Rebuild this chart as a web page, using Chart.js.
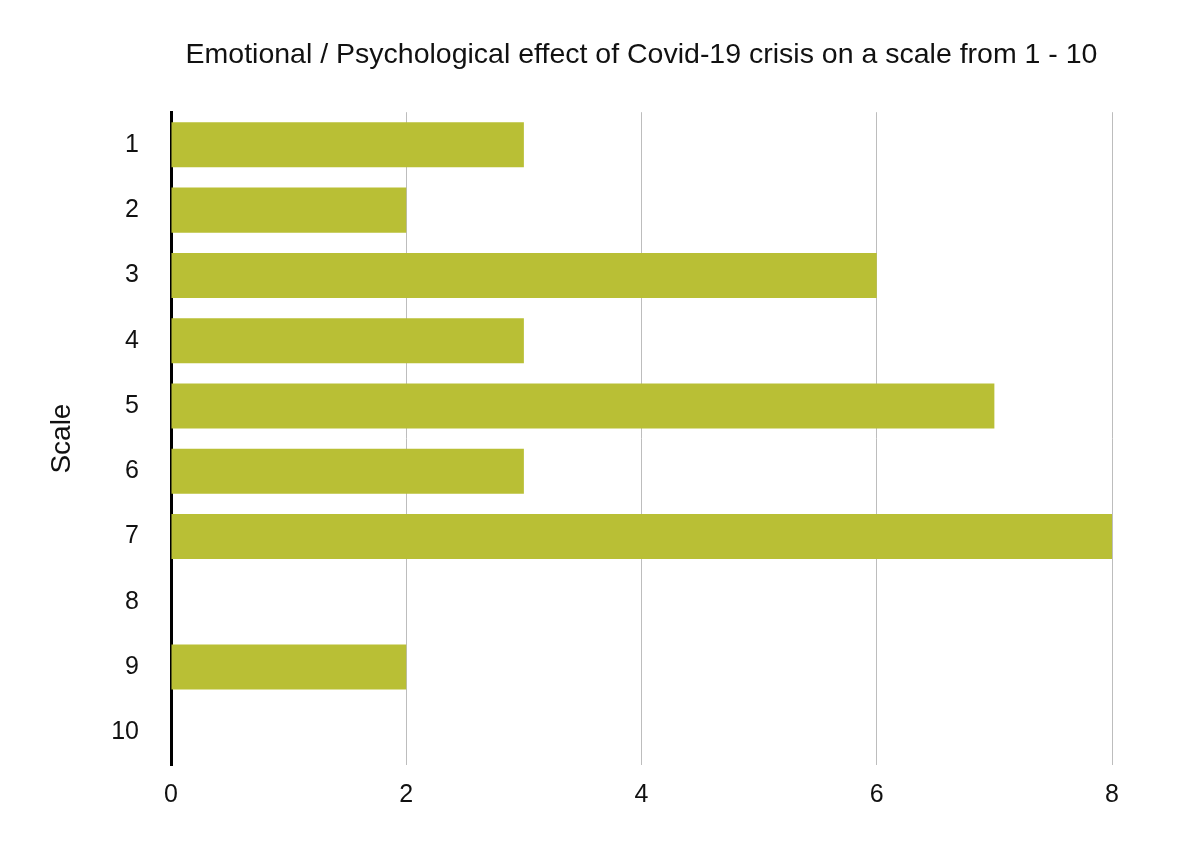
<!DOCTYPE html>
<html>
<head>
<meta charset="utf-8">
<script src="https://cdn.jsdelivr.net/npm/chart.js@4.4.1/dist/chart.umd.min.js"></script>
<style>
  html, body { margin: 0; padding: 0; background: #ffffff; }
  #wrap { width: 1200px; height: 852px; }
</style>
</head>
<body>
<div id="wrap"><canvas id="c" width="1200" height="852"></canvas></div>
<script>
const categories = ['1', '2', '3', '4', '5', '6', '7', '8', '9', '10'];
const counts = [3, 2, 6, 3, 7, 3, 8, 0, 2, 0];
const xTicks = [0, 2, 4, 6, 8];
const chartTitle = 'Emotional / Psychological effect of Covid-19 crisis on a scale from 1 - 10';
const yTitle = 'Scale';

const FONT = '"Liberation Sans", Arial, Helvetica, sans-serif';

new Chart(document.getElementById('c'), {
  type: 'bar',
  data: {
    labels: categories,
    datasets: [{
      data: counts,
      backgroundColor: '#b9bf35',
      borderWidth: 0,
      barPercentage: 0.69,
      categoryPercentage: 1.0
    }]
  },
  options: {
    indexAxis: 'y',
    responsive: false,
    animation: false,
    layout: { padding: { left: 0, right: 88, top: 0, bottom: 0 } },
    plugins: {
      legend: { display: false },
      tooltip: { enabled: false },
      title: {
        display: true,
        text: chartTitle,
        fullSize: false,
        color: '#111111',
        font: { family: FONT, size: 28.5, weight: 'normal' },
        padding: { top: 38, bottom: 40 }
      }
    },
    scales: {
      x: {
        min: 0,
        max: 8,
        afterBuildTicks: (scale) => { scale.ticks = xTicks.map(v => ({ value: v })); },
        afterFit: (scale) => { scale.height = 87; },
        border: { display: false },
        grid: {
          drawTicks: false,
          color: (ctx) => ctx.tick && ctx.tick.value === 0 ? 'rgba(0,0,0,0)' : '#bdbdbd',
          lineWidth: 1
        },
        ticks: {
          color: '#111111',
          font: { family: FONT, size: 25 },
          padding: 15
        }
      },
      y: {
        afterFit: (scale) => { scale.width = 171; },
        border: { display: true, color: '#000000', width: 3 },
        grid: { display: false, drawTicks: false },
        ticks: {
          color: '#111111',
          font: { family: FONT, size: 25 },
          padding: 32
        },
        title: {
          display: true,
          text: yTitle,
          color: '#111111',
          font: { family: FONT, size: 28 },
          padding: { top: 45, bottom: 0 }
        }
      }
    }
  }
});
</script>
</body>
</html>
